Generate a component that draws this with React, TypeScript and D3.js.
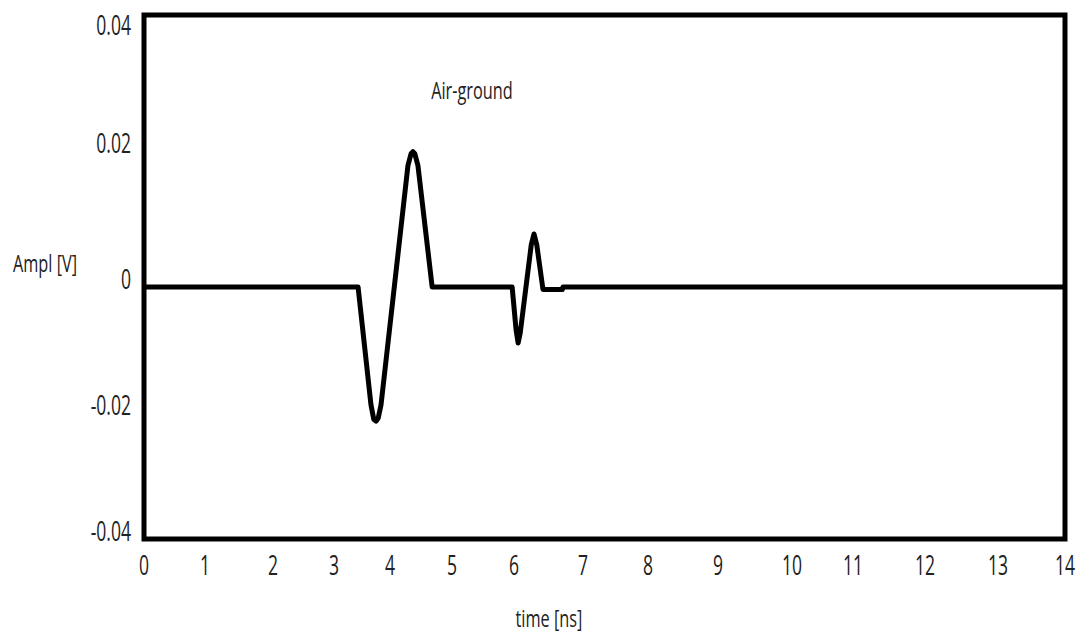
import React from "react";
import * as d3 from "d3";

// time [ns] of each traced vertex of the trace
const timeNs = [0, 3.43, 3.66, 3.71, 3.75, 3.79, 3.84, 4.29, 4.34, 4.37, 4.4, 4.45, 4.68, 5.97, 6.03, 6.06, 6.09, 6.25, 6.29, 6.33, 6.42, 6.7, 6.71, 14];
// amplitude [V]
const amplV = [0, 0, -0.0187, -0.021, -0.0213, -0.0208, -0.0187, 0.0179, 0.0196, 0.0199, 0.0196, 0.0179, 0, 0, -0.0068, -0.0089, -0.0073, 0.0062, 0.0078, 0.0062, -0.0004, -0.0004, 0, 0];

const xTicks = [0, 1, 2, 3, 4, 5, 6, 7, 8, 9, 10, 11, 12, 13, 14];
const yTicks = [0.04, 0.02, 0, -0.02, -0.04];
const yTickLabels = ["0.04", "0.02", "0", "-0.02", "-0.04"];

const title = "Air-ground";
const xTitle = "time [ns]";
const yTitle = "Ampl [V]";

const W = 1085;
const H = 637;
const left = 144;
const right = 1065;
const top = 15;
const bottom = 539;
const zeroY = 287;

// hand-spaced axis of the original figure
const x = d3
  .scaleLinear()
  .domain(xTicks)
  .range([left, 205, 273, 334, 390, 452, 514, 583, 648, 718, 792, 853, 925, 998, right]);
const y = d3.scaleLinear().domain([-0.04, 0, 0.04]).range([bottom, zeroY, top]);

const FONT = "'Open Sans', 'DejaVu Sans', sans-serif";

function CText({ x0, y0, size, sx, anchor, children }: { x0: number; y0: number; size: number; sx: number; anchor: string; children: React.ReactNode }) {
  return (
    <text
      transform={`translate(${x0},${y0}) scale(${sx},1)`}
      textAnchor={anchor as any}
      fontFamily={FONT}
      fontSize={size}
      fill="#222"
    >
      {children}
    </text>
  );
}

export default function App() {
  const pts: [number, number][] = timeNs.map((t, i) => [t, amplV[i]]);
  const line = d3
    .line<[number, number]>()
    .x((d) => x(d[0]))
    .y((d) => y(d[1]))
    .curve(d3.curveLinear);

  return (
    <svg
      width={W}
      height={H}
      style={{ position: "absolute", left: 0, top: 0, background: "#fff" }}
    >
      <rect x={0} y={0} width={W} height={H} fill="#fff" />
      <rect
        x={left}
        y={top}
        width={right - left}
        height={bottom - top}
        fill="none"
        stroke="#000"
        strokeWidth={5}
      />
      <path d={line(pts) || ""} fill="none" stroke="#000" strokeWidth={5} strokeLinejoin="round" />

      {xTicks.map((t) => (
        <CText key={"x" + t} x0={x(t)} y0={575} size={27} sx={0.65} anchor="middle">
          {String(t)}
        </CText>
      ))}
      {yTicks.map((v, i) => (
        <CText key={"y" + i} x0={131} y0={Math.min(Math.max(y(v) - 8, 25), 536) + 10} size={27} sx={0.65} anchor="end">
          {yTickLabels[i]}
        </CText>
      ))}

      <CText x0={472} y0={99} size={24} sx={0.68} anchor="middle">
        {title}
      </CText>
      <CText x0={549} y0={627} size={24} sx={0.68} anchor="middle">
        {xTitle}
      </CText>
      <CText x0={45} y0={272} size={24} sx={0.68} anchor="middle">
        {yTitle}
      </CText>
    </svg>
  );
}
